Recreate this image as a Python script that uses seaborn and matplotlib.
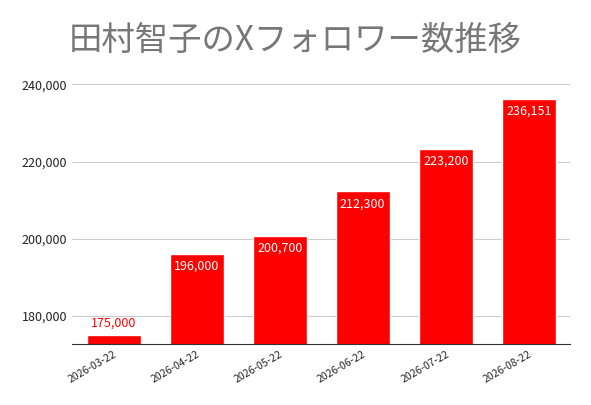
import matplotlib
matplotlib.use("Agg")
import matplotlib.pyplot as plt
import seaborn as sns
import pandas as pd

dates = ["2026-03-22", "2026-04-22", "2026-05-22", "2026-06-22", "2026-07-22", "2026-08-22"]
followers = [175000, 196000, 200700, 212300, 223200, 236151]
title = "田村智子のXフォロワー数推移"

sns.set_style("white")
plt.rcParams['font.family'] = ['Noto Sans CJK JP', 'DejaVu Sans']

df = pd.DataFrame({"date": dates, "followers": followers})

fig = plt.figure(figsize=(5.91, 4.05), dpi=100)
ax = fig.add_axes([0.122, 0.151, 0.843, 0.65])
sns.barplot(data=df, x="date", y="followers", color="#ff0000", saturation=1, width=0.65, ax=ax)

ymin = 172800
ax.set_ylim(ymin, 241000)
ax.set_yticks([180000, 200000, 220000, 240000])
ax.set_yticklabels([f"{v:,}" for v in [180000, 200000, 220000, 240000]], fontsize=9, color="#222222")
ax.yaxis.grid(True, color="#cccccc", lw=0.8)
ax.set_axisbelow(True)
for s in ["top", "right", "left"]:
    ax.spines[s].set_visible(False)
ax.spines["bottom"].set_color("#333333")
ax.tick_params(axis="y", length=0)
ax.tick_params(axis="x", length=0, labelsize=7.5, rotation=30)
for lab in ax.get_xticklabels():
    lab.set_ha("right")
    lab.set_rotation_mode("anchor")
ax.set_xlabel("")
ax.set_ylabel("")

for i, v in enumerate(followers):
    if v - ymin < 6000:
        ax.text(i, v + 1500, f"{v:,}", ha="center", va="bottom", color="#ff0000", fontsize=9)
    else:
        ax.text(i, v - 1500, f"{v:,}", ha="center", va="top", color="white", fontsize=9)

fig.text(0.5, 0.9, title, ha="center", va="center", fontsize=24, color="#777777", style="italic")
fig.savefig("out.png", dpi=100)
